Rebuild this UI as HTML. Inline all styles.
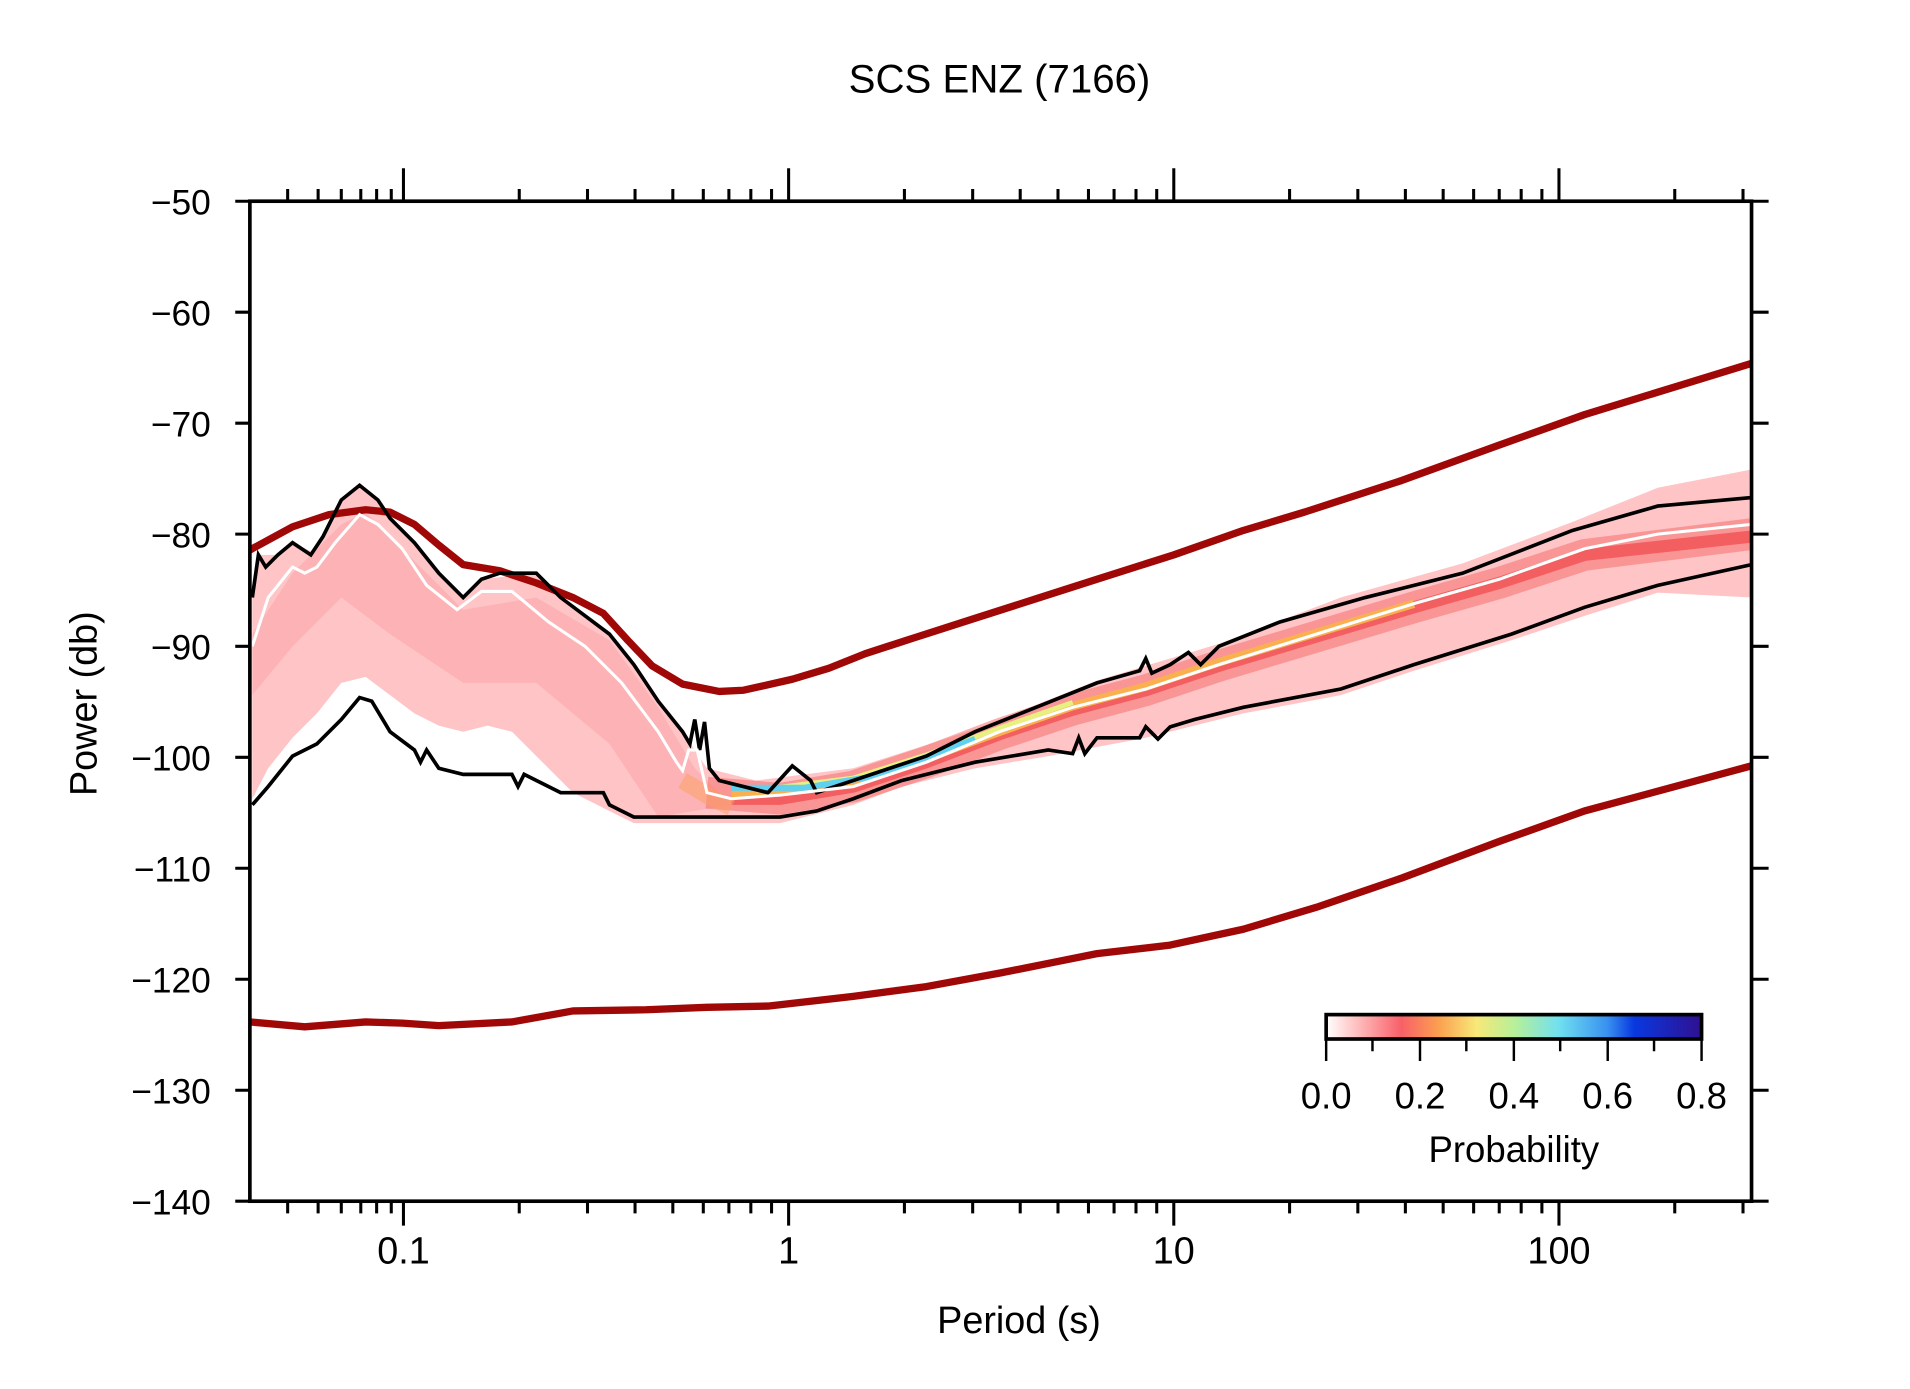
<!DOCTYPE html>
<html><head><meta charset="utf-8"><style>
html,body{margin:0;padding:0;background:#fff;}
svg{display:block;}
text{font-family:"Liberation Sans",sans-serif;fill:#000;}
</style></head><body>
<svg width="1910" height="1389" viewBox="0 0 1567 1139" preserveAspectRatio="none" xmlns="http://www.w3.org/2000/svg">
<defs>
<linearGradient id="cb" x1="0" x2="1">
<stop offset="0" stop-color="#fff"/>
<stop offset="0.06" stop-color="#ffd0d0"/>
<stop offset="0.2" stop-color="#f86068"/>
<stop offset="0.3" stop-color="#fba050"/>
<stop offset="0.4" stop-color="#f8e878"/>
<stop offset="0.5" stop-color="#b8f098"/>
<stop offset="0.62" stop-color="#70e0f0"/>
<stop offset="0.75" stop-color="#3890f0"/>
<stop offset="0.82" stop-color="#0838e0"/>
<stop offset="1" stop-color="#301090"/>
</linearGradient>
</defs>
<rect width="1567" height="1139" fill="#fff"/>
<text x="820" y="76" font-size="33" text-anchor="middle">SCS ENZ (7166)</text>

<!-- density -->
<polygon fill="#ffc4c6" points="207,480 212,455 228,455 240,445 255,452 265,440 280,410 295,398 310,410 320,425 340,445 360,470 380,490 395,475 440,470 460,490 480,505 500,520 520,545 540,575 560,600 580,630 620,640 700,630 800,598 900,558 1000,528 1100,490 1200,462 1290,428 1360,400 1437,385 1437,490 1360,486 1300,505 1240,525 1160,550 1100,570 1020,585 940,605 860,620 800,630 740,645 700,660 640,675 520,675 500,665 470,650 440,620 420,600 400,595 380,600 360,595 340,585 320,570 300,555 280,560 260,585 240,605 220,630 207,655"/>
<polygon fill="#fca8aa" opacity="0.6" points="207,520 240,470 280,430 300,420 330,450 380,500 440,490 500,525 540,580 570,630 600,660 540,670 500,610 440,560 380,560 320,520 280,490 240,530 207,570"/>
<polyline fill="none" stroke="#f57070" stroke-width="26" opacity="0.55" points="580,650 640,655 700,645 760,625 820,602 880,582 940,566 1000,546 1080,522 1160,498 1230,478 1300,455 1437,438"/>
<polyline fill="none" stroke="#f04848" stroke-width="10" opacity="0.7" points="600,655 640,655 700,645 760,625 820,602 880,582 940,566 1000,546 1080,522 1160,498 1230,478 1300,455 1437,440"/>
<polyline fill="none" stroke="#fbb050" stroke-width="7" points="600,652 700,642 760,622 820,600 880,579 940,563 1000,543 1080,519 1160,495"/>
<polyline fill="none" stroke="#e8f080" stroke-width="4" points="620,648 700,638 760,619 820,597 880,576"/>
<polyline fill="none" stroke="#60d0f0" stroke-width="5" points="600,646 660,646 720,636 770,617 800,606"/>
<polyline fill="none" stroke="#fca060" stroke-width="14" opacity="0.5" points="560,640 580,652 600,662"/>

<!-- noise models -->
<polyline fill="none" stroke="#a00808" stroke-width="6" stroke-linejoin="round" points="205,451 240,432 270,422 300,418 320,420 340,430 360,447 380,463 410,468 440,478 470,490 495,503 515,525 535,546 560,561 590,567 610,566 650,557 680,548 710,536 750,523 800,507 850,491 900,475 963,455 1020,435 1070,420 1150,394 1230,365 1300,340 1437,298"/>
<polyline fill="none" stroke="#a00808" stroke-width="6" stroke-linejoin="round" points="205,838 250,842 300,838 330,839 360,841 420,838 470,829 530,828 580,826 630,825 700,817 760,809 820,798 870,788 900,782 960,775 1020,762 1080,744 1150,720 1230,690 1300,665 1437,628"/>

<!-- percentiles -->
<polyline fill="none" stroke="#000" stroke-width="3" points="207,490 212,455 218,465 228,455 240,445 255,455 265,440 280,410 295,398 310,410 320,425 340,445 360,470 380,490 395,475 410,470 440,470 460,490 480,505 500,520 520,545 540,575 560,600 566,610 570,590 574,615 578,592 582,630 590,640 610,645 630,650 650,628 665,640 670,650 700,640 730,630 760,620 800,600 850,580 900,560 935,550 940,540 945,552 960,545 975,535 985,545 1000,530 1050,510 1120,490 1200,470 1290,435 1360,415 1437,408"/>
<polyline fill="none" stroke="#000" stroke-width="3" points="207,660 220,645 240,620 260,610 280,590 295,572 305,575 320,600 340,615 345,625 350,615 360,630 380,635 420,635 425,645 430,635 460,650 495,650 500,660 520,670 640,670 670,665 700,655 740,640 800,625 860,615 880,618 885,605 890,618 900,605 935,605 940,596 950,606 960,596 980,590 1020,580 1100,565 1160,545 1240,520 1300,498 1360,480 1437,463"/>
<polyline fill="none" stroke="#fff" stroke-width="2.5" points="207,530 220,490 240,465 250,470 260,465 275,445 295,422 310,430 330,450 350,480 375,500 395,485 420,485 450,510 480,530 510,560 540,600 555,625 560,632 565,615 572,615 580,650 600,655 640,652 700,645 760,625 820,600 880,580 940,565 1000,545 1080,520 1160,495 1230,475 1300,450 1360,438 1437,430"/>

<!-- frame -->
<rect x="205" y="165" width="1232" height="820" fill="none" stroke="#000" stroke-width="3"/>
<g stroke="#000" stroke-width="2.5">
<path d="M193,165H205M193,256H205M193,347H205M193,438H205M193,530H205M193,621H205M193,712H205M193,803H205M193,894H205M193,985H205"/>
<path d="M1437,165H1451M1437,256H1451M1437,347H1451M1437,438H1451M1437,530H1451M1437,621H1451M1437,712H1451M1437,803H1451M1437,894H1451M1437,985H1451"/>
<path d="M331,138V165M647,138V165M963,138V165M1279,138V165"/>
<path d="M331,985V1005M647,985V1005M963,985V1005M1279,985V1005"/>
<path d="M236,155V165M261,155V165M280,155V165M296,155V165M309,155V165M321,155V165M426,155V165M482,155V165M521,155V165M552,155V165M577,155V165M598,155V165M616,155V165M633,155V165M742,155V165M798,155V165M837,155V165M868,155V165M893,155V165M914,155V165M932,155V165M949,155V165M1058,155V165M1114,155V165M1153,155V165M1184,155V165M1209,155V165M1230,155V165M1248,155V165M1265,155V165M1374,155V165M1430,155V165"/>
<path d="M236,985V995M261,985V995M280,985V995M296,985V995M309,985V995M321,985V995M426,985V995M482,985V995M521,985V995M552,985V995M577,985V995M598,985V995M616,985V995M633,985V995M742,985V995M798,985V995M837,985V995M868,985V995M893,985V995M914,985V995M932,985V995M949,985V995M1058,985V995M1114,985V995M1153,985V995M1184,985V995M1209,985V995M1230,985V995M1248,985V995M1265,985V995M1374,985V995M1430,985V995"/>
</g>
<g font-size="29" text-anchor="end">
<text x="173" y="176">−50</text><text x="173" y="267">−60</text><text x="173" y="358">−70</text><text x="173" y="449">−80</text><text x="173" y="541">−90</text><text x="173" y="632">−100</text><text x="173" y="723">−110</text><text x="173" y="814">−120</text><text x="173" y="905">−130</text><text x="173" y="996">−140</text>
</g>
<g font-size="31" text-anchor="middle">
<text x="331" y="1036">0.1</text><text x="647" y="1036">1</text><text x="963" y="1036">10</text><text x="1279" y="1036">100</text>
<text x="836" y="1093">Period (s)</text>
<text transform="translate(79,577) rotate(-90)">Power (db)</text>
</g>

<!-- colorbar -->
<rect x="1088" y="832" width="308" height="20" fill="url(#cb)" stroke="#000" stroke-width="3"/>
<path stroke="#000" stroke-width="2" d="M1088,852V870M1126,852V862M1165,852V870M1203,852V862M1242,852V870M1280,852V862M1319,852V870M1357,852V862M1396,852V870"/>
<g font-size="30" text-anchor="middle">
<text x="1088" y="909">0.0</text><text x="1165" y="909">0.2</text><text x="1242" y="909">0.4</text><text x="1319" y="909">0.6</text><text x="1396" y="909">0.8</text>
<text x="1242" y="953">Probability</text>
</g>
</svg>
</body></html>
